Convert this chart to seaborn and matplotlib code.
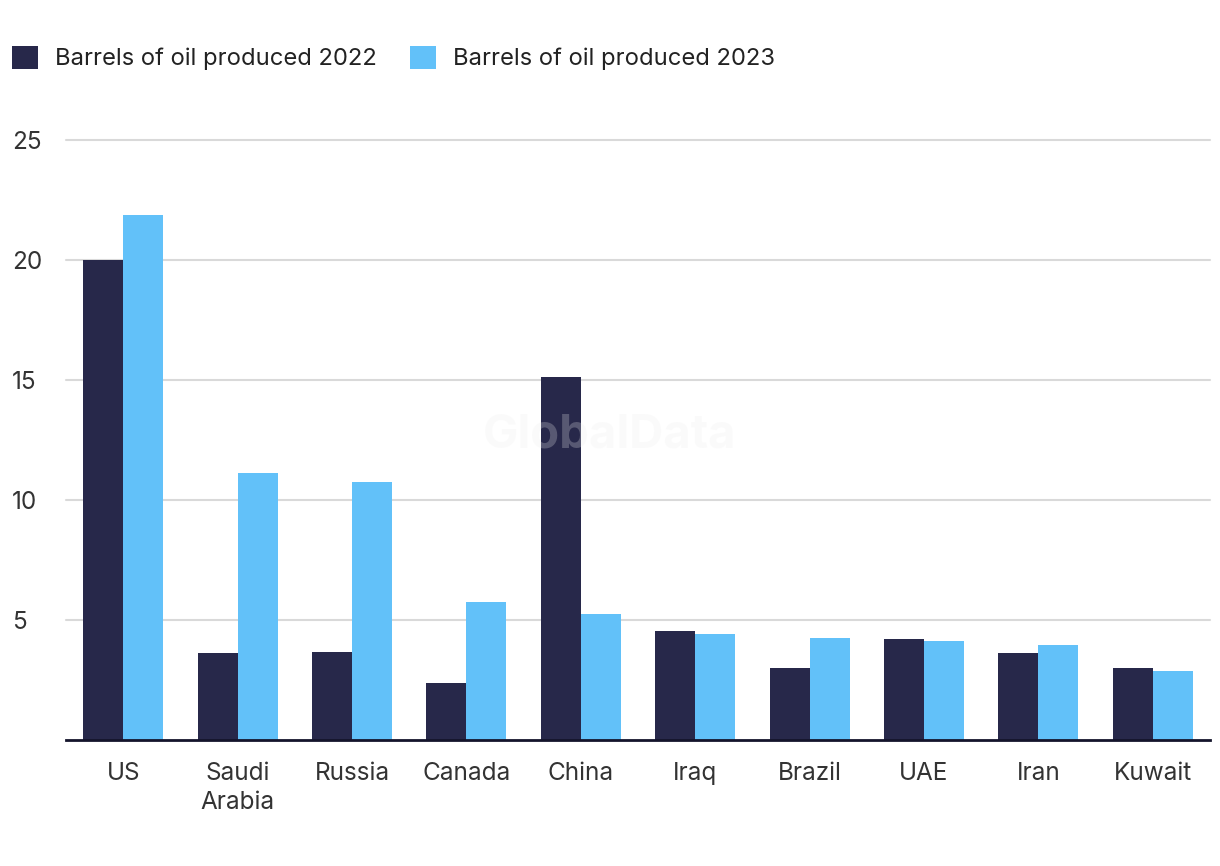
import matplotlib
matplotlib.use("Agg")
import matplotlib.pyplot as plt
from matplotlib.patches import Patch
import seaborn as sns
import pandas as pd

countries = ["US", "Saudi\nArabia", "Russia", "Canada", "China", "Iraq", "Brazil", "UAE", "Iran", "Kuwait"]
prod_2022 = [20.0, 3.62, 3.67, 2.37, 15.12, 4.54, 3.0, 4.21, 3.62, 3.0]
prod_2023 = [21.88, 11.12, 10.75, 5.75, 5.25, 4.42, 4.25, 4.12, 3.96, 2.87]
series = ["Barrels of oil produced 2022", "Barrels of oil produced 2023"]
colors = ["#27284a", "#62c1f9"]
yticks = [5, 10, 15, 20, 25]

df = pd.DataFrame({
    "country": countries * 2,
    "value": prod_2022 + prod_2023,
    "series": [series[0]] * len(countries) + [series[1]] * len(countries),
})

sns.set_theme(style="white")
plt.rcParams["font.family"] = ["Inter", "DejaVu Sans"]

fig = plt.figure(figsize=(12.2, 8.66), dpi=100)
ax = fig.add_axes([66 / 1220, (866 - 740) / 866, (1210 - 66) / 1220, (740 - 140) / 866])

sns.barplot(data=df, x="country", y="value", hue="series", palette=colors,
            width=0.7, gap=0, saturation=1, ax=ax, legend=False, linewidth=0)

ax.set_ylim(0, 25)
ax.set_xlim(-0.5, len(countries) - 0.5)
ax.set_yticks(yticks)
ax.yaxis.grid(True, color="#d9d9d9", linewidth=1.5)
ax.set_axisbelow(True)
for s in ["top", "right", "left"]:
    ax.spines[s].set_visible(False)
ax.spines["bottom"].set_color("#14142b")
ax.spines["bottom"].set_linewidth(2)
ax.spines["bottom"].set_zorder(5)
ax.tick_params(axis="both", length=0, labelsize=17.5, labelcolor="#333333")
ax.tick_params(axis="x", pad=16)
ax.tick_params(axis="y", pad=39)
for lab in ax.get_yticklabels():
    lab.set_horizontalalignment("left")
for lab in ax.get_xticklabels():
    lab.set_linespacing(1.3)
ax.set_xlabel("")
ax.set_ylabel("")
for line in ax.get_ygridlines():
    line.set_clip_on(False)

handles = [Patch(facecolor=c, edgecolor="none") for c in colors]
fig.legend(handles, series, loc="center left", bbox_to_anchor=(12 / 1220, 1 - 58 / 866),
           ncol=2, frameon=False, fontsize=17.1, handlelength=1.1, handleheight=1.1,
           handletextpad=0.7, columnspacing=1.4, borderaxespad=0, borderpad=0,
           labelcolor="#222222")

fig.text(0.5, 1 - 435 / 866, "GlobalData", ha="center", va="center", fontsize=34,
         fontweight="bold", color="#eeeeee", alpha=0.25, zorder=10)

fig.savefig("out.png", dpi=100, facecolor="white")
